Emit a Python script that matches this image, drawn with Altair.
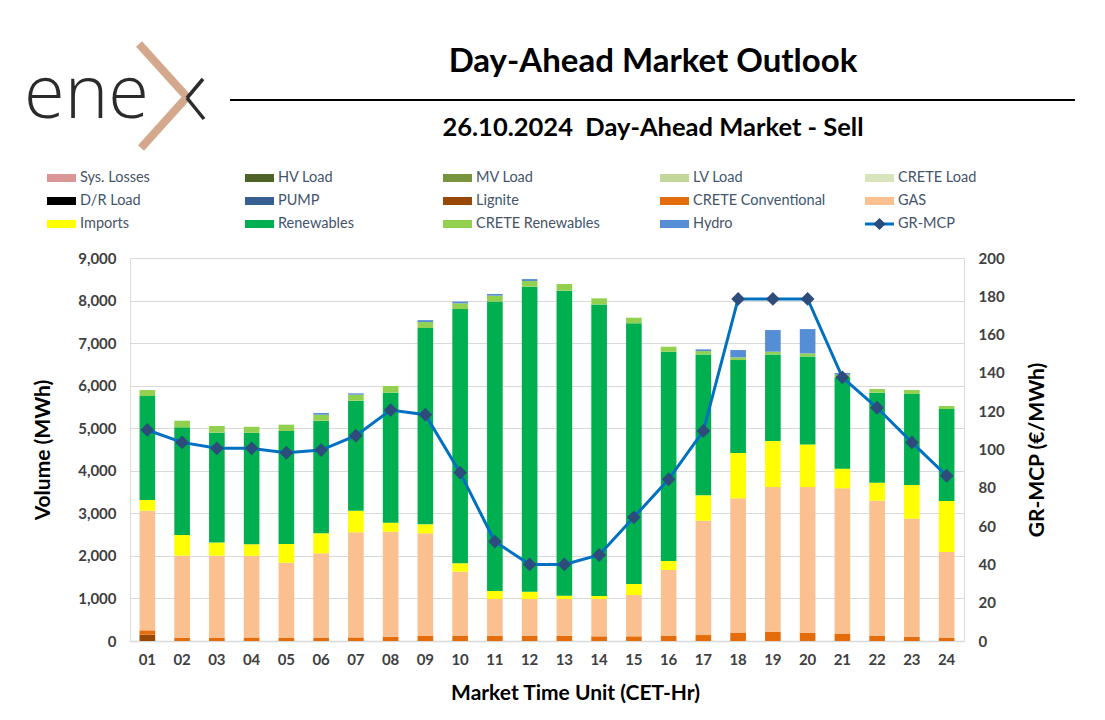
import altair as alt
import pandas as pd

# ---------------- data ----------------
hours = ["01", "02", "03", "04", "05", "06", "07", "08", "09", "10", "11", "12",
         "13", "14", "15", "16", "17", "18", "19", "20", "21", "22", "23", "24"]
lignite = [150, 0, 0, 0, 0, 0, 0, 0, 0, 0, 0, 0, 0, 0, 0, 0, 0, 0, 0, 0, 0, 0, 0, 0]
crete_conv = [100, 80, 80, 80, 80, 80, 85, 100, 120, 125, 125, 125, 125, 110, 110, 120,
              140, 188, 219, 196, 164, 125, 102, 70]
gas = [2812, 1925, 1925, 1925, 1760, 1980, 2468, 2470, 2410, 1505, 862, 862, 862, 877,
       970, 1548, 2687, 3164, 3399, 3422, 3423, 3172, 2772, 2021]
imports = [251, 485, 307, 267, 440, 470, 509, 210, 211, 195, 188, 173, 78, 73, 260, 212,
           596, 1065, 1081, 1002, 463, 423, 792, 1199]
renewables = [2444, 2530, 2583, 2623, 2654, 2647, 2585, 3055, 4614, 5975, 6800, 7165,
              7167, 6850, 6125, 4917, 3312, 2185, 2036, 2068, 2145, 2115, 2138, 2161]
crete_ren = [140, 157, 157, 141, 149, 141, 141, 157, 140, 135, 140, 135, 156, 142, 132,
             118, 78, 63, 63, 70, 62, 86, 94, 71]
hydro = [0, 0, 0, 0, 0, 40, 32, 0, 45, 40, 40, 45, 0, 0, 0, 0, 40, 172, 509, 572, 40, 0, 0, 0]
mcp = [110.2, 103.7, 100.6, 100.6, 98.3, 99.7, 107.2, 120.6, 118.2, 87.9, 51.9, 40.0,
       40.0, 44.9, 64.6, 84.4, 109.7, 178.6, 178.6, 178.6, 137.7, 121.8, 103.7, 86.3]

legend_names = ["Sys. Losses", "HV Load", "MV Load", "LV Load", "CRETE Load",
                "D/R Load", "PUMP", "Lignite", "CRETE Conventional", "GAS",
                "Imports", "Renewables", "CRETE Renewables", "Hydro", "GR-MCP"]
legend_colors = ["#da9694", "#4f6228", "#77933c", "#c4d79b", "#d8e4bc",
                 "#000000", "#366092", "#974706", "#e46c0a", "#fac090",
                 "#ffff00", "#00b050", "#92d050", "#558ed5", "#0070c0"]

color_of = dict(zip(legend_names, legend_colors))

stack_series = [("Lignite", lignite), ("CRETE Conventional", crete_conv), ("GAS", gas),
                ("Imports", imports), ("Renewables", renewables),
                ("CRETE Renewables", crete_ren), ("Hydro", hydro)]

rows = []
for k, (name, vals) in enumerate(stack_series):
    for h, v in zip(hours, vals):
        rows.append({"Hour": h, "Series": name, "Volume": v, "k": k})
bars_df = pd.DataFrame(rows)
mcp_df = pd.DataFrame({"Hour": hours, "MCP": mcp})

FONT = "Lato"
LABEL_COLOR = "#404040"

x_enc = alt.X("Hour:N", sort=hours,
              scale=alt.Scale(paddingInner=0.55, paddingOuter=0.275),
              axis=alt.Axis(title="Market Time Unit (CET-Hr)", labelAngle=0,
                            labelFont=FONT, labelFontSize=15, labelFontWeight="bold",
                            labelColor=LABEL_COLOR, labelPadding=11, ticks=False,
                            domainColor="#d9d9d9", domainWidth=1.5,
                            titleFont=FONT, titleFontSize=21, titleFontWeight="bold",
                            titleColor="#000000", titleX=445, titleY=52,
                            titleBaseline="middle", titleAlign="center"))

bars = alt.Chart(bars_df).mark_bar().encode(
    x=x_enc,
    y=alt.Y("Volume:Q", stack="zero",
            scale=alt.Scale(domain=[0, 9000]),
            axis=alt.Axis(title="Volume (MWh)", values=list(range(0, 9001, 1000)),
                          format=",.0f", labelFont=FONT, labelFontSize=15,
                          labelFontWeight="bold", labelColor=LABEL_COLOR,
                          labelPadding=14, ticks=False, domain=False, labelOverlap=False,
                          grid=True, gridColor="#d9d9d9", gridWidth=1.2,
                          titleFont=FONT, titleFontSize=21, titleFontWeight="bold",
                          titleColor="#000000", titleX=-87, titleY=191.5,
                          titleAngle=-90, titleAlign="center", titleBaseline="middle")),
    color=alt.Color("Series:N",
                    scale=alt.Scale(domain=[s for s, _ in stack_series],
                                    range=[color_of[s] for s, _ in stack_series]),
                    legend=None),
    order=alt.Order("k:Q", sort="ascending"),
)

y_mcp = alt.Y("MCP:Q", scale=alt.Scale(domain=[0, 200]),
              axis=alt.Axis(orient="right", title="GR-MCP (€/MWh)",
                            values=list(range(0, 201, 20)), labelOverlap=False,
                            labelFont=FONT, labelFontSize=15, labelFontWeight="bold",
                            labelColor=LABEL_COLOR, labelPadding=14, ticks=False,
                            domain=False, grid=False,
                            titleFont=FONT, titleFontSize=21, titleFontWeight="bold",
                            titleColor="#000000", titleX=73, titleY=191.5,
                            titleAngle=-90, titleAlign="center", titleBaseline="middle"))

mcp_line = alt.Chart(mcp_df).mark_line(
    color="#0070c0", strokeWidth=3,
    point=alt.OverlayMarkDef(shape="diamond", filled=True, size=190,
                             color="#2d4c7c", opacity=1)).encode(
    x=alt.X("Hour:N", sort=hours), y=y_mcp)

# ---------------- header, logo, legend ----------------
one = pd.DataFrame({"a": [0]})

title = alt.Chart(one).mark_text(text="Day-Ahead Market Outlook", font=FONT,
                                 fontSize=33, fontWeight="bold", color="#000000",
                                 align="center", baseline="middle").encode(
    x=alt.value(523), y=alt.value(-196))
subtitle = alt.Chart(one).mark_text(text="26.10.2024\u00a0\u00a0Day-Ahead Market - Sell",
                                    font=FONT, fontSize=25.5, fontWeight="bold",
                                    color="#000000",
                                    align="center", baseline="middle").encode(
    x=alt.value(523), y=alt.value(-130))
header_rule = alt.Chart(one).mark_rule(color="#000000", strokeWidth=2).encode(
    x=alt.value(100), x2=alt.value(945), y=alt.value(-158))

logo_text = alt.Chart(one).mark_text(text="ene", font="Open Sans", fontSize=74,
                                     fontWeight=300, color="#2b2b2b",
                                     align="left", baseline="alphabetic").encode(
    x=alt.value(-106), y=alt.value(-140))
chev1 = alt.Chart(one).mark_rule(color="#d4a88c", strokeWidth=8).encode(
    x=alt.value(9), y=alt.value(-214), x2=alt.value(57), y2=alt.value(-161))
chev2 = alt.Chart(one).mark_rule(color="#d4a88c", strokeWidth=8).encode(
    x=alt.value(57), y=alt.value(-161), x2=alt.value(11), y2=alt.value(-110))
dark1 = alt.Chart(one).mark_rule(color="#2b2b2b", strokeWidth=3.5).encode(
    x=alt.value(73), y=alt.value(-179), x2=alt.value(57), y2=alt.value(-160))
dark2 = alt.Chart(one).mark_rule(color="#2b2b2b", strokeWidth=3.5).encode(
    x=alt.value(57), y=alt.value(-160), x2=alt.value(74), y2=alt.value(-139))

leg_df = pd.DataFrame({"name": legend_names, "color": legend_colors,
                       "i": list(range(len(legend_names)))})
leg_base = alt.Chart(leg_df).transform_calculate(
    sx="[-83, 115, 313, 530, 735][datum.i % 5]",
    sy="[-80, -57, -34][floor(datum.i / 5)]",
).transform_calculate(
    sx2="datum.sx + 29", sy1="datum.sy - 4", sy2="datum.sy + 4",
    lx="datum.sx + 33", mx="datum.sx + 14.5")

leg_rects = leg_base.transform_filter("datum.name != 'GR-MCP'").mark_rect().encode(
    x=alt.X("sx:Q", scale=None), x2="sx2:Q",
    y=alt.Y("sy1:Q", scale=None), y2="sy2:Q",
    color=alt.Color("color:N", scale=None))
leg_line = leg_base.transform_filter("datum.name == 'GR-MCP'").mark_rule(
    color="#0070c0", strokeWidth=3).encode(
    x=alt.X("sx:Q", scale=None), x2="sx2:Q", y=alt.Y("sy:Q", scale=None))
leg_pt = leg_base.transform_filter("datum.name == 'GR-MCP'").mark_point(
    shape="diamond", filled=True, size=150, color="#2d4c7c", opacity=1).encode(
    x=alt.X("mx:Q", scale=None), y=alt.Y("sy:Q", scale=None))
leg_text = leg_base.mark_text(font=FONT, fontSize=14.5, color="#44546a",
                              align="left", baseline="middle").encode(
    x=alt.X("lx:Q", scale=None), y=alt.Y("sy:Q", scale=None), text="name:N")

decor = alt.layer(title, subtitle, header_rule, logo_text, chev1, chev2, dark1, dark2,
                  leg_rects, leg_line, leg_pt, leg_text)

chart = alt.layer(bars, mcp_line, decor).resolve_scale(y="independent").properties(
    width=834, height=383,
    autosize=alt.AutoSizeParams(type="none"),
    padding={"left": 122, "top": 250, "right": 125, "bottom": 64},
).configure_view(stroke="transparent", strokeWidth=0).configure(background="#ffffff")

chart.save("out.html", embed_options={"renderer": "svg", "actions": False})
